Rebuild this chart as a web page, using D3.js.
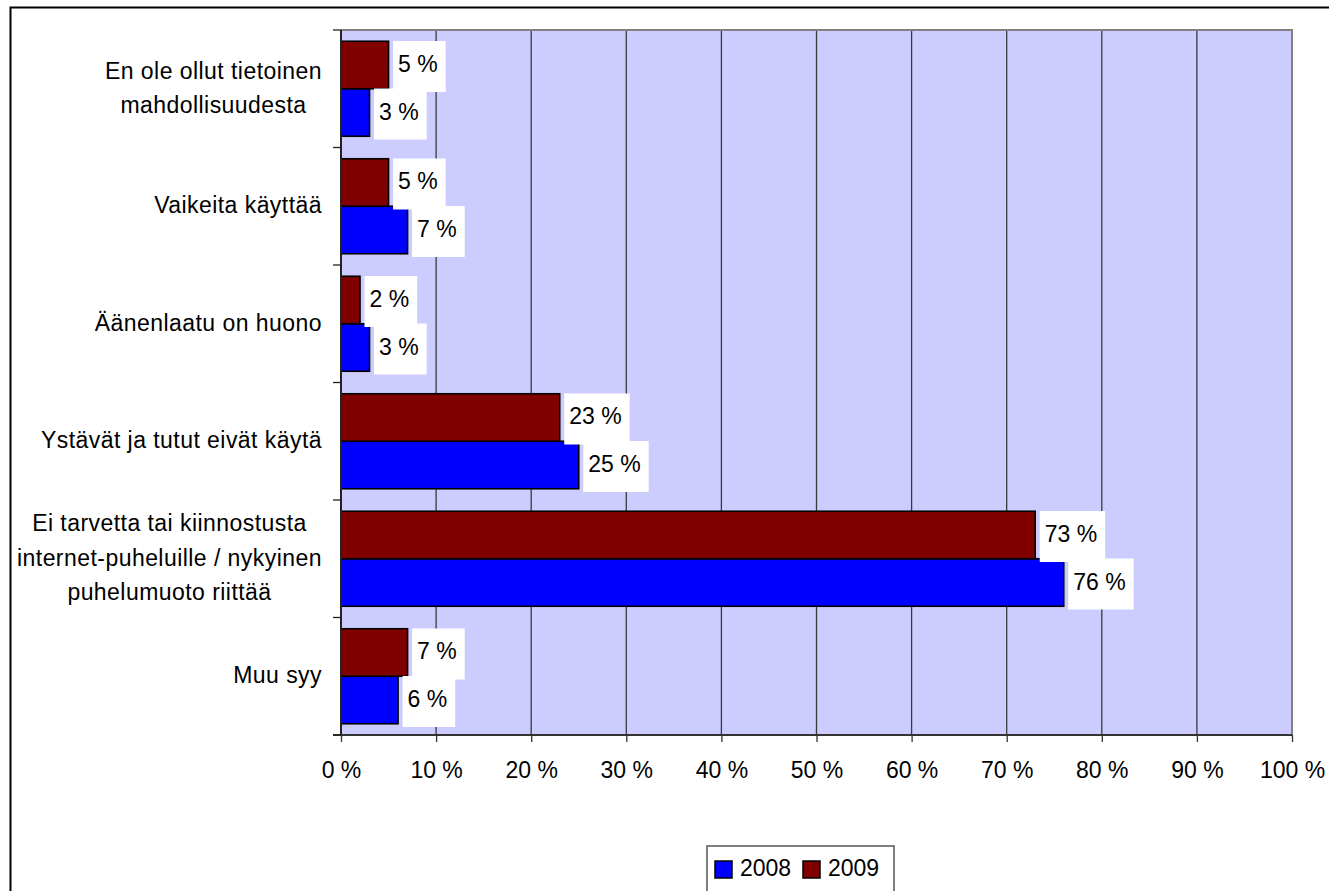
<!DOCTYPE html>
<html>
<head>
<meta charset="utf-8">
<script src="https://cdn.jsdelivr.net/npm/d3@7/dist/d3.min.js"></script>
<style>
  html, body { margin: 0; padding: 0; background: #fff; }
  svg { display: block; font-family: "Liberation Sans", Arial, sans-serif; }
</style>
</head>
<body>
<svg id="chart" width="1329" height="891"></svg>
<script>
// Reasons for not using internet calls, share of respondents (%)
const categories = [
  ["En ole ollut tietoinen", "mahdollisuudesta"],
  ["Vaikeita käyttää"],
  ["Äänenlaatu on huono"],
  ["Ystävät ja tutut eivät käytä"],
  ["Ei tarvetta tai kiinnostusta", "internet-puheluille / nykyinen", "puhelumuoto riittää"],
  ["Muu syy"]
];
const seriesNames = ["2008", "2009"];
const values2008 = [3, 7, 3, 25, 76, 6];
const values2009 = [5, 5, 2, 23, 73, 7];
const xTicks = [0, 10, 20, 30, 40, 50, 60, 70, 80, 90, 100];
const seriesColors = { "2008": "#0000FF", "2009": "#800000" };

const svg = d3.select("#chart");
const W = 1329, H = 891;

// outer chart frame (extends past the right and bottom edges)
svg.append("rect")
  .attr("x", 10.5).attr("y", 7.5)
  .attr("width", W + 20).attr("height", H + 20)
  .attr("fill", "#fff").attr("stroke", "#000").attr("stroke-width", 2);

const plot = { left: 341, right: 1292, top: 30, bottom: 735 };

const x = d3.scaleLinear().domain([0, 100]).range([plot.left, plot.right]);
const keys = categories.map((c, i) => i);
const y = d3.scaleBand().domain(keys).range([plot.top, plot.bottom]).paddingInner(0).paddingOuter(0);
// 2009 bar sits above 2008 inside each category
const ySub = d3.scaleBand().domain(["2009", "2008"]).range([0, y.bandwidth()])
  .paddingInner(0).paddingOuter(0.2368);

// plot background
svg.append("rect")
  .attr("x", plot.left).attr("y", plot.top)
  .attr("width", plot.right - plot.left).attr("height", plot.bottom - plot.top)
  .attr("fill", "#CCCCFF");

// vertical gridlines
svg.append("g").selectAll("line")
  .data(xTicks.filter(t => t > 0 && t < 100))
  .join("line")
  .attr("x1", d => x(d)).attr("x2", d => x(d))
  .attr("y1", plot.top).attr("y2", plot.bottom)
  .attr("stroke", "#3a3a3a").attr("stroke-width", 1.3);

// plot border top and right
svg.append("path")
  .attr("d", `M${plot.left},${plot.top}H${plot.right}V${plot.bottom}`)
  .attr("fill", "none").attr("stroke", "#808080").attr("stroke-width", 2);

// bars
const rows = [];
keys.forEach(i => {
  rows.push({ i, s: "2008", v: values2008[i] });
  rows.push({ i, s: "2009", v: values2009[i] });
});

svg.append("g").selectAll("rect")
  .data(rows)
  .join("rect")
  .attr("x", x(0))
  .attr("y", d => y(d.i) + ySub(d.s))
  .attr("width", d => x(d.v) - x(0))
  .attr("height", ySub.bandwidth())
  .attr("fill", d => seriesColors[d.s])
  .attr("stroke", "#000").attr("stroke-width", 1.6);

// x axis
const xAxis = svg.append("g")
  .attr("transform", `translate(0,${plot.bottom})`)
  .call(d3.axisBottom(x).tickValues(xTicks).tickSize(7).tickPadding(0).tickFormat(d => d + " %"));
xAxis.select(".domain").attr("stroke", "#333").attr("stroke-width", 2)
  .attr("d", `M${plot.left - 8},0H${plot.right}`);
xAxis.selectAll(".tick line").attr("stroke", "#333").attr("stroke-width", 1.3);
xAxis.selectAll(".tick text")
  .attr("y", 43).attr("dy", null)
  .attr("font-size", 23).attr("fill", "#000")
  .attr("font-family", "Liberation Sans, Arial, sans-serif");

// y axis line with category boundary ticks
const yAxis = svg.append("g");
yAxis.append("line")
  .attr("x1", plot.left).attr("x2", plot.left)
  .attr("y1", plot.top).attr("y2", plot.bottom)
  .attr("stroke", "#222").attr("stroke-width", 2);
const bounds = keys.map(i => y(i)).concat([plot.bottom]);
yAxis.selectAll("line.tk")
  .data(bounds)
  .join("line").attr("class", "tk")
  .attr("x1", plot.left - 8).attr("x2", plot.left)
  .attr("y1", d => d).attr("y2", d => d)
  .attr("stroke", "#222").attr("stroke-width", 1.3);

// category labels: lines centered within a right-aligned block
const labelRight = plot.left - 19;
const lineH = 34.5;
keys.forEach(i => {
  const lines = categories[i];
  const g = svg.append("g");
  const texts = lines.map((ln, j) => g.append("text")
    .attr("font-size", 23).attr("letter-spacing", 0.45)
    .attr("fill", "#000")
    .attr("text-anchor", "middle")
    .attr("y", y(i) + y.bandwidth() / 2 + (j - (lines.length - 1) / 2) * lineH + 7)
    .text(ln));
  const maxW = d3.max(texts, t => t.node().getComputedTextLength());
  texts.forEach(t => t.attr("x", labelRight - maxW / 2));
});

// data labels on white boxes
const labels = svg.append("g");
rows.forEach(d => {
  const cy = y(d.i) + ySub(d.s) + ySub.bandwidth() / 2;
  const gx = x(d.v) + 4.5;
  const t = labels.append("text")
    .attr("font-size", 23).attr("fill", "#000")
    .attr("x", gx + 5).attr("y", cy + 7)
    .text(d.v + " %");
  const tw = t.node().getComputedTextLength();
  labels.insert("rect", "text")
    .attr("x", gx).attr("y", cy - 24)
    .attr("width", tw + 13).attr("height", 51)
    .attr("fill", "#fff");
});
// keep each text above every box
labels.selectAll("text").raise();

// legend
const legend = svg.append("g");
legend.append("rect")
  .attr("x", 707).attr("y", 846)
  .attr("width", 187).attr("height", 60)
  .attr("fill", "#fff").attr("stroke", "#555").attr("stroke-width", 1.5);
const legX = [715, 803];
seriesNames.forEach((s, k) => {
  legend.append("rect")
    .attr("x", legX[k]).attr("y", 861)
    .attr("width", 17).attr("height", 17)
    .attr("fill", seriesColors[s]).attr("stroke", "#000").attr("stroke-width", 1.5);
  legend.append("text")
    .attr("x", legX[k] + 25).attr("y", 876)
    .attr("font-size", 23).attr("fill", "#000")
    .text(s);
});
</script>
</body>
</html>
